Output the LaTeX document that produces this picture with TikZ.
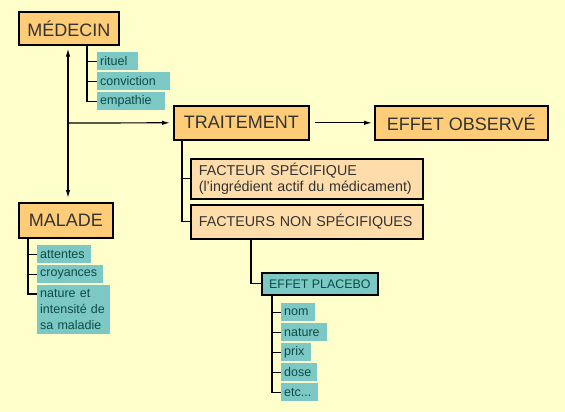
\documentclass[tikz,border=0pt]{standalone}
\usepackage{fontspec}
\setmainfont{Liberation Sans}
\usetikzlibrary{arrows.meta}
\definecolor{fond}{HTML}{FFFFCC}
\definecolor{boiteorange}{HTML}{FFCC77}
\definecolor{peche}{HTML}{FFDDAA}
\definecolor{sarcelle}{HTML}{7CC8C4}
\definecolor{encre}{HTML}{333333}
\definecolor{encresar}{HTML}{0E4B45}
\hyphenpenalty=10000
\tikzset{
	boite/.style={draw, line width=1.6pt, fill=boiteorange, text=encre, font=\fontsize{18}{20}\selectfont, inner sep=0pt, anchor=north west},
	facteur/.style={draw, line width=1.6pt, fill=peche, text=encre, font=\fontsize{14.3}{16}\selectfont, inner xsep=8pt, inner ysep=0pt, text width=216pt, align=left, anchor=north west},
	etiq/.style={fill=sarcelle, text=encresar, font=\fontsize{12.5}{16}\selectfont, inner xsep=3pt, inner ysep=0pt, minimum height=18pt, text width=#1, align=left, anchor=north west},
	lien/.style={line width=1.2pt},
	fleche/.style={line width=1.2pt, -{Latex[length=8pt,width=4.5pt]}}
}

\begin{document}
\begin{tikzpicture}[x=1pt, y=-1pt]
			%%%%% START %%%%%
			
			\fill[fond] (0, 0) rectangle (565, 412);
			
			\node[boite, minimum width=100pt, minimum height=33pt] (medecin) at (18, 11) {MÉDECIN};
			\node[etiq=35pt] (rituel) at (97, 52) {rituel};
			\node[etiq=67pt] (conviction) at (97, 72) {conviction};
			\node[etiq=62pt] (empathie) at (97, 92) {empathie};
			
			\node[boite, minimum width=135pt, minimum height=34pt] (traitement) at (173, 105) {TRAITEMENT};
			\node[boite, minimum width=173pt, minimum height=34pt] (observe) at (374, 105) {EFFET OBSERVÉ};
			
			\node[facteur, minimum height=40pt] (specifique) at (190, 158) {FACTEUR SPÉCIFIQUE\\(l’ingrédient actif du médicament)};
			\node[facteur, minimum height=34pt] (nonspec) at (190, 204) {FACTEURS NON SPÉCIFIQUES};
			
			\node[boite, minimum width=94pt, minimum height=35pt] (malade) at (18, 202) {MALADE};
			\node[etiq=48pt] (attentes) at (37, 245) {attentes};
			\node[etiq=60pt] (croyances) at (37, 265) {croyances};
			\node[etiq=67pt, minimum height=49pt] (nature) at (37, 285) {nature et\\intensité de\\sa maladie};
			
			\node[boite, fill=sarcelle, text=encresar, font=\fontsize{12.4}{14}\selectfont, minimum width=116pt, minimum height=22pt] (placebo) at (261, 272) {EFFET PLACEBO};
			\node[etiq=28pt] (nom) at (281, 303) {nom};
			\node[etiq=40pt] (naturep) at (281, 323) {nature};
			\node[etiq=24pt] (prix) at (281, 343) {prix};
			\node[etiq=30pt] (dose) at (281, 363) {dose};
			\node[etiq=31pt] (etc) at (281, 383) {etc...};
			
			\coordinate (pivot) at (68, 123);
			
			% fleches
			\draw[fleche, {Latex[length=8pt,width=4.5pt]}-{Latex[length=8pt,width=4.5pt]}, shorten <=3pt, shorten >=4pt] (medecin.south -| pivot) -- (malade.north -| pivot);
			\draw[fleche, shorten >=3pt] (pivot) -- (traitement.west);
			\draw[fleche, shorten <=5pt, shorten >=2pt] (traitement.east) -- (observe.west);
			
			% arbres
			\draw[lien] ([xshift=-10pt]empathie.west |- medecin.south) |- (empathie.west);
			\foreach \n in {rituel, conviction}
				\draw[lien] (\n.west) -- ++(-10, 0);
			
			\draw[lien] ([xshift=-8pt]nonspec.west |- traitement.south) |- (nonspec.west);
			\draw[lien] (specifique.west) -- ++(-8, 0);
			
			\draw[lien] ([xshift=-9pt]nature.north west |- malade.south) |- ([yshift=-9pt]nature.north west);
			\foreach \n in {attentes, croyances}
				\draw[lien] (\n.west) -- ++(-9, 0);
			
			\draw[lien] ([xshift=-10pt]placebo.west |- nonspec.south) |- (placebo.west);
			
			\draw[lien] ([xshift=-9pt]etc.west |- placebo.south) |- (etc.west);
			\foreach \n in {nom, naturep, prix, dose}
				\draw[lien] (\n.west) -- ++(-9, 0);
			
			%%%%% END %%%%%
\end{tikzpicture}
\end{document}
